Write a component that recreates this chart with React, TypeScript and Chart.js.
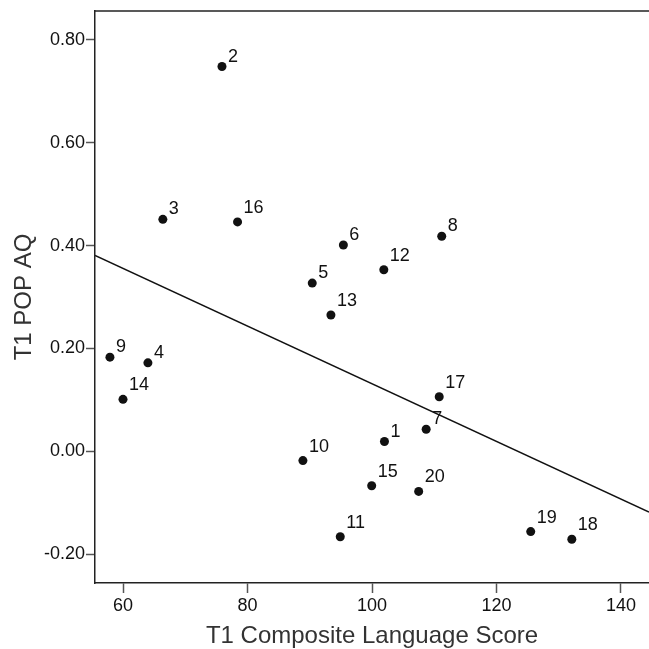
import React, { useEffect, useRef } from "react";
import { Chart, registerables } from "chart.js";

Chart.register(...registerables);

const pointLabels = ["1","2","3","4","5","6","7","8","9","10","11","12","13","14","15","16","17","18","19","20"];
const compositeScores = [102.0, 75.9, 66.4, 64.0, 90.4, 95.4, 108.7, 111.2, 57.9, 88.9, 94.9, 101.9, 93.4, 60.0, 99.95, 78.4, 110.8, 132.1, 125.5, 107.5];
const popAq = [0.019, 0.748, 0.451, 0.172, 0.327, 0.401, 0.043, 0.418, 0.183, -0.018, -0.166, 0.353, 0.265, 0.101, -0.067, 0.446, 0.106, -0.171, -0.156, -0.078];
const fitLineX = [55.5, 144.5];
const fitLineY = [0.381, -0.118];
const xTicks = [60, 80, 100, 120, 140];
const yTicks = [-0.2, 0.0, 0.2, 0.4, 0.6, 0.8];

const FONT = '"Liberation Sans", Arial, Helvetica, sans-serif';

const labelPlugin = {
  id: "pointLabels",
  afterDatasetsDraw(chart: any) {
    const ctx = chart.ctx;
    const meta = chart.getDatasetMeta(0);
    ctx.save();
    ctx.font = `18px ${FONT}`;
    ctx.fillStyle = "#111";
    ctx.textAlign = "left";
    ctx.textBaseline = "alphabetic";
    meta.data.forEach((el: any, i: number) => {
      const t = pointLabels[i];
      const dy = t.length === 1 ? -5 : -9;
      ctx.fillText(t, el.x + 6, el.y + dy);
    });
    ctx.restore();
  },
  beforeDraw(chart: any) {
    const { ctx, chartArea } = chart;
    ctx.save();
    ctx.strokeStyle = "#222";
    ctx.lineWidth = 1.5;
    ctx.beginPath();
    ctx.moveTo(chartArea.left, chartArea.top);
    ctx.lineTo(chartArea.right, chartArea.top);
    ctx.stroke();
    ctx.restore();
  },
};

export default function App() {
  const ref = useRef<HTMLCanvasElement>(null);
  useEffect(() => {
    if (!ref.current) return;
    const chart = new Chart(ref.current, {
      type: "scatter",
      data: {
        datasets: [
          {
            type: "scatter",
            data: compositeScores.map((x, i) => ({ x, y: popAq[i] })),
            backgroundColor: "#111",
            borderColor: "#111",
            pointRadius: 4.5,
            pointHoverRadius: 4.5,
            borderWidth: 0,
          },
          {
            type: "line",
            data: fitLineX.map((x, i) => ({ x, y: fitLineY[i] })),
            borderColor: "#111",
            borderWidth: 1.5,
            pointRadius: 0,
            showLine: true,
            fill: false,
          } as any,
        ],
      },
      plugins: [labelPlugin],
      options: {
        animation: false,
        responsive: false,
        maintainAspectRatio: false,
        events: [],
        layout: { autoPadding: false, padding: { top: 11, right: 0, left: 0, bottom: 0 } },
        plugins: { legend: { display: false }, tooltip: { enabled: false } },
        scales: {
          x: {
            type: "linear",
            min: 55.5,
            max: 144.5,
            afterFit: (s: any) => { s.height = 66; s.paddingRight = 0; s.paddingLeft = 0; },
            afterBuildTicks: (s: any) => { s.ticks = xTicks.map((v) => ({ value: v })); },
            ticks: {
              font: { family: FONT, size: 18 },
              color: "#111",
              padding: 2,
              maxRotation: 0,
              callback: (v: any) => String(v),
            },
            grid: { drawOnChartArea: false, tickLength: 10, color: "#555", tickWidth: 1.5 },
            border: { display: true, color: "#222", width: 1.5 },
            title: {
              display: true,
              text: "T1 Composite Language Score",
              font: { family: FONT, size: 24, lineHeight: 1 },
              color: "#333",
              padding: { top: 0, bottom: 1 },
            },
          },
          y: {
            type: "linear",
            min: -0.256,
            max: 0.856,
            afterFit: (s: any) => { s.width = 95; s.paddingTop = 0; s.paddingBottom = 0; },
            afterBuildTicks: (s: any) => { s.ticks = yTicks.map((v) => ({ value: v })); },
            ticks: {
              font: { family: FONT, size: 18 },
              color: "#111",
              padding: 1,
              callback: (v: any) => Number(v).toFixed(2),
            },
            grid: { drawOnChartArea: false, tickLength: 9, color: "#555", tickWidth: 1.5 },
            border: { display: true, color: "#222", width: 1.5 },
            title: {
              display: true,
              text: "T1 POP AQ",
              font: { family: FONT, size: 24, lineHeight: 1 },
              color: "#333",
              padding: { top: 12, bottom: 0 },
            },
          },
        },
      },
    });
    return () => chart.destroy();
  }, []);
  return (
    <div style={{ position: "fixed", left: 0, top: 0, width: 649, height: 649, background: "#fff" }}>
      <canvas ref={ref} width={649} height={649} style={{ width: 649, height: 649 }} />
    </div>
  );
}
